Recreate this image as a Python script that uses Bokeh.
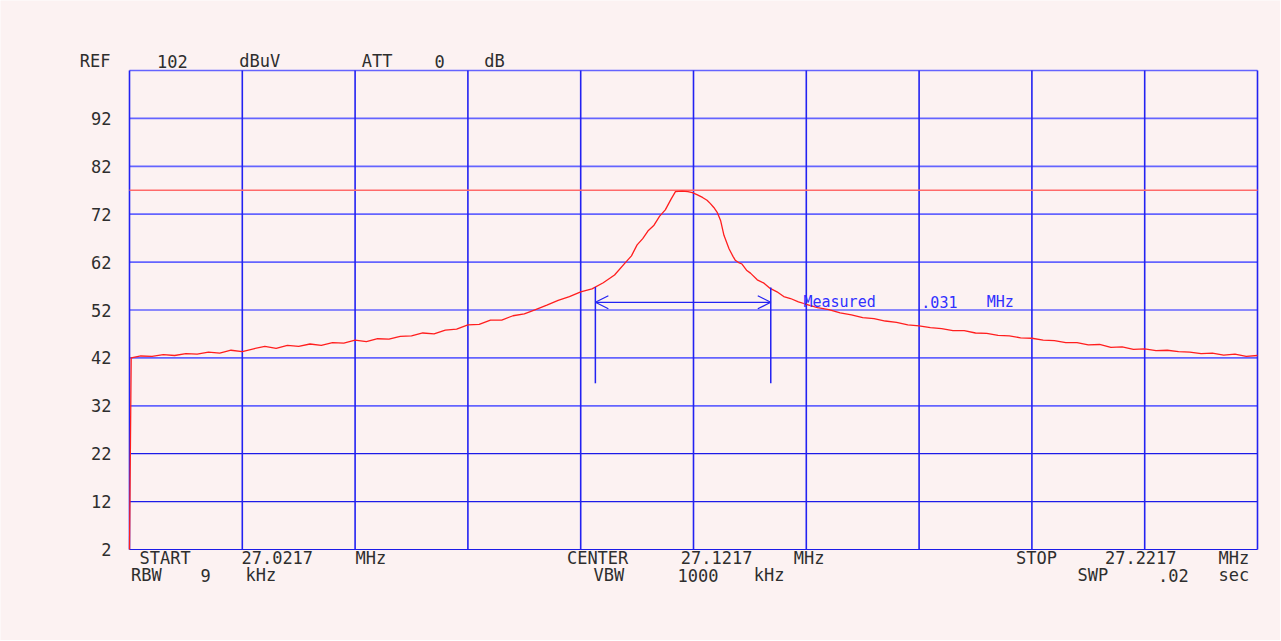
from bokeh.plotting import figure
from bokeh.models import Range1d, Arrow, OpenHead
from bokeh.core.properties import value
from bokeh.embed import file_html
from bokeh.resources import INLINE

# ---------------- data ----------------
start_mhz = 27.0217
stop_mhz = 27.2217
ref_level = 102
bottom_level = 2
level_ticks = [2, 12, 22, 32, 42, 52, 62, 72, 82, 92]
light_levels = [32, 42, 52, 62, 72, 82, 92, 102]
dark_levels = [2, 12, 22]
freq_divisions = [27.0217, 27.0417, 27.0617, 27.0817, 27.1017, 27.1217,
                  27.1417, 27.1617, 27.1817, 27.2017, 27.2217]
display_line = 77.0

offsets_khz = [0.0, 0.3, 2, 4, 6, 8, 10, 12, 14, 16, 18, 20, 22, 24, 26, 28, 30,
               32, 34, 36, 38, 40, 42, 44, 46, 48, 50, 52, 54, 56, 58, 60, 62,
               64, 66, 68, 70, 72, 74, 76, 78, 80, 82, 84, 86, 88, 89, 90, 91,
               92, 93, 94, 95, 96, 96.8, 98, 99, 99.8, 100.6, 101.6, 102.4,
               103, 103.6, 104.2, 104.8, 105.4, 106.3, 107, 107.4, 108, 108.6,
               109.4, 110.1, 111.3, 112.5, 113.6, 114.8, 116, 117.2, 118.6,
               120, 122, 124, 126, 128, 130, 132, 134, 136, 138, 140, 142, 144,
               146, 148, 150, 152, 154, 156, 158, 160, 162, 164, 166, 168, 170,
               172, 174, 176, 178, 180, 182, 184, 186, 188, 190, 192, 194, 196,
               198, 200]
levels_dbuv = [2.0, 42.0, 42.4, 42.3, 42.7, 42.5, 42.9, 42.8, 43.2, 43.0, 43.6,
               43.3, 43.9, 44.4, 44.0, 44.6, 44.4, 44.9, 44.6, 45.2, 45.1, 45.7,
               45.4, 46.0, 45.9, 46.5, 46.6, 47.2, 47.0, 47.8, 48.0, 48.9, 49.0,
               49.9, 49.9, 50.8, 51.2, 52.1, 53.0, 54.0, 54.8, 55.8, 56.4, 57.7,
               59.3, 62.0, 63.3, 65.6, 66.9, 68.6, 69.7, 71.6, 72.9, 75.1, 76.7,
               76.8, 76.7, 76.5, 76.1, 75.5, 74.9, 74.2, 73.4, 72.4, 70.7, 67.6,
               64.8, 63.2, 62.4, 61.9, 61.6, 60.3, 59.7, 58.3, 57.6, 56.5, 55.8,
               54.8, 54.4, 53.7, 53.2, 52.5, 52.1, 51.4, 51.0, 50.4, 50.2, 49.7,
               49.4, 48.9, 48.7, 48.3, 48.1, 47.7, 47.7, 47.2, 47.1, 46.7, 46.6,
               46.2, 46.1, 45.7, 45.6, 45.2, 45.2, 44.7, 44.8, 44.2, 44.3, 43.8,
               43.9, 43.5, 43.6, 43.3, 43.2, 42.9, 43.0, 42.6, 42.8, 42.3, 42.5]

marker_freqs_mhz = [27.1043, 27.1354]
marker_bottom = 36.7
marker_tops = [56.8, 56.7]
measure_level = 53.6

header_words = ["REF", "102", "dBuV", "ATT", "0", "dB"]
footer1_words = ["START", "27.0217", "MHz", "CENTER", "27.1217", "MHz",
                 "STOP", "27.2217", "MHz"]
footer2_words = ["RBW", "9", "kHz", "VBW", "1000", "kHz", "SWP", ".02", "sec"]
measure_words = ["Measured", ".031", "MHz"]

# --------------- layout (canvas geometry, label positions) ---------------
W, H = 1280, 640
FRAME_L, FRAME_R, FRAME_T, FRAME_B = 129, 1257, 70, 549
PX_PER_MHZ = (FRAME_R - FRAME_L) / (stop_mhz - start_mhz)
PX_PER_DB = (FRAME_B - FRAME_T) / (ref_level - bottom_level)
x_lo = start_mhz - FRAME_L / PX_PER_MHZ
x_hi = stop_mhz + (W - FRAME_R) / PX_PER_MHZ
y_lo = bottom_level - (H - FRAME_B) / PX_PER_DB
y_hi = ref_level + FRAME_T / PX_PER_DB

header_x = [27.0156, 27.0293, 27.0448, 27.0656, 27.0767, 27.0864]
header_y = 103.9
footer1_x = [27.0280, 27.0479, 27.0645, 27.1047, 27.1258, 27.1422,
             27.1825, 27.2010, 27.2175]
footer1_y = 0.3
footer2_x = [27.0247, 27.0352, 27.0450, 27.1067, 27.1225, 27.1351,
             27.1925, 27.2068, 27.2175]
footer2_y = -3.4
measure_x = [27.1476, 27.1653, 27.1761]
tick_label_x = start_mhz - 18 / PX_PER_MHZ

freqs = [start_mhz + o / 1000.0 for o in offsets_khz]

BG = "#fcf2f2"
LIGHT_BLUE = "#6464ff"
DARK_BLUE = "#2222f2"
TEXT = "#2e2e2e"
FONT = "DejaVu Sans Mono"

p = figure(width=W, height=H, output_backend="svg", toolbar_location=None,
           x_range=Range1d(x_lo, x_hi), y_range=Range1d(y_lo, y_hi),
           min_border=0)
p.background_fill_color = BG
p.border_fill_color = BG
p.outline_line_color = None
p.axis.visible = False
p.grid.visible = False

# horizontal graticule
n_l = len(light_levels)
p.segment(x0=[start_mhz] * n_l, y0=light_levels, x1=[stop_mhz] * n_l,
          y1=light_levels, line_color=LIGHT_BLUE, line_width=1.7)
n_d = len(dark_levels)
p.segment(x0=[start_mhz] * n_d, y0=dark_levels, x1=[stop_mhz] * n_d,
          y1=dark_levels, line_color="#1c1ce8", line_width=1.2)
# vertical graticule
n_v = len(freq_divisions)
p.segment(x0=freq_divisions, y0=[bottom_level] * n_v, x1=freq_divisions,
          y1=[ref_level] * n_v, line_color=DARK_BLUE, line_width=1.6)

# display line
p.segment(x0=[start_mhz], y0=[display_line], x1=[stop_mhz], y1=[display_line],
          line_color="#ff6a6a", line_width=1.5)

# trace
p.line(freqs, levels_dbuv, line_color="#ff1e1e", line_width=1.3)

# markers
p.segment(x0=marker_freqs_mhz, y0=[marker_bottom, marker_bottom],
          x1=marker_freqs_mhz, y1=marker_tops, line_color=DARK_BLUE, line_width=1.5)
p.add_layout(Arrow(start=OpenHead(size=13, line_color=DARK_BLUE, line_width=1.2),
                   end=OpenHead(size=13, line_color=DARK_BLUE, line_width=1.2),
                   x_start=marker_freqs_mhz[0], y_start=measure_level,
                   x_end=marker_freqs_mhz[1], y_end=measure_level,
                   line_color=DARK_BLUE, line_width=1.2))

p.text(x=measure_x, y=[measure_level] * len(measure_x), text=measure_words,
       text_font=value(FONT), text_font_size="15px", text_color="#3030ff",
       text_align="center", text_baseline="middle")

# level labels
p.text(x=[tick_label_x] * len(level_ticks), y=level_ticks,
       text=[str(v) for v in level_ticks], text_font=value(FONT),
       text_font_size="17px", text_color=TEXT, text_align="right",
       text_baseline="middle")

for words, xs, y in ((header_words, header_x, header_y),
                     (footer1_words, footer1_x, footer1_y),
                     (footer2_words, footer2_x, footer2_y)):
    p.text(x=xs, y=[y] * len(xs), text=words, text_font=value(FONT),
           text_font_size="17px", text_color=TEXT, text_align="center",
           text_baseline="middle")

open("out.html", "w").write(file_html(p, INLINE))
